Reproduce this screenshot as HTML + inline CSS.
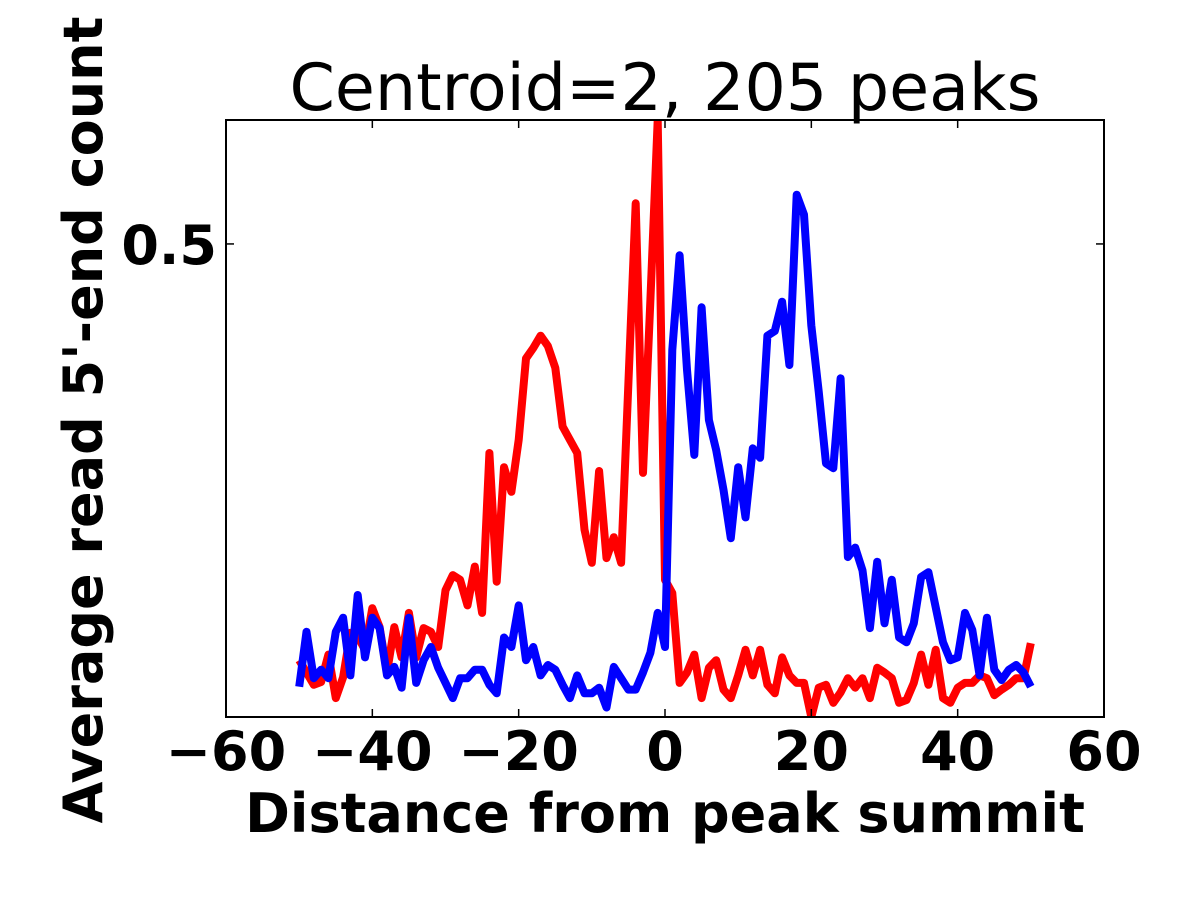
<!DOCTYPE html>
<html><head><meta charset="utf-8"><style>
html,body{margin:0;padding:0;background:#fff;}
svg{display:block;}
</style></head><body>
<svg id="chart" width="1200" height="900" xmlns="http://www.w3.org/2000/svg"></svg>
<script>
const xs = []; for (let i = -50; i <= 50; i++) xs.push(i);
const redValues = [.060,.047,.034,.037,.066,.020,.042,.089,.085,.071,.115,.095,.047,.095,.063,.110,.063,.094,.090,.074,.134,.150,.145,.118,.159,.110,.279,.143,.264,.238,.293,.379,.390,.403,.392,.369,.307,.293,.279,.198,.163,.260,.168,.190,.163,.353,.543,.258,.441,.631,.145,.131,.036,.047,.066,.020,.052,.060,.029,.020,.044,.071,.044,.071,.034,.025,.063,.044,.036,.036,0,.031,.034,.015,.026,.041,.031,.041,.020,.052,.047,.041,.015,.018,.036,.066,.034,.071,.020,.015,.031,.036,.036,.044,.041,.023,.029,.034,.041,.041,.078];
const blueValues = [.032,.090,.041,.050,.041,.090,.105,.044,.129,.063,.105,.094,.044,.053,.031,.105,.036,.060,.074,.052,.036,.020,.041,.041,.050,.050,.034,.025,.084,.074,.118,.060,.074,.044,.055,.050,.034,.020,.044,.025,.025,.031,.010,.053,.041,.029,.029,.047,.068,.110,.074,.388,.488,.367,.277,.433,.314,.282,.240,.189,.264,.211,.284,.274,.403,.408,.439,.372,.552,.531,.414,.344,.268,.263,.358,.169,.179,.155,.094,.164,.099,.145,.084,.079,.099,.148,.153,.116,.079,.060,.063,.110,.092,.044,.105,.050,.039,.050,.055,.047,.032];
const xTicks = [-60,-40,-20,0,20,40,60];
const xTickLabels = ["\u221260","\u221240","\u221220","0","20","40","60"];
const yTicks = [0.5];
const yTickLabels = ["0.5"];

const L=226,R=1104,T=120,B=717;
const xMin=-60,xMax=60,yMin=0,yMax=0.631;
const sx=v=>L+(v-xMin)/(xMax-xMin)*(R-L);
const sy=v=>B-(v-yMin)/(yMax-yMin)*(B-T);
const NS="http://www.w3.org/2000/svg";
const FONT='DejaVu Sans, sans-serif';
const svg=document.getElementById('chart');
function mk(tag,attrs,parent){const e=document.createElementNS(NS,tag);for(const k in attrs)e.setAttribute(k,attrs[k]);(parent||svg).appendChild(e);return e;}

const defs=mk('defs',{});
const cp=mk('clipPath',{id:'clip'},defs);
mk('rect',{x:L,y:T,width:R-L,height:B-T},cp);

function series(vals,color,name){
  const d=vals.map((v,i)=>(i?'L':'M')+sx(xs[i]).toFixed(1)+','+sy(v).toFixed(1)).join(' ');
  const p=mk('path',{d:d,fill:'none',stroke:color,'stroke-width':8,'stroke-linejoin':'round','clip-path':'url(#clip)'});
  
  
}
series(redValues,'#ff0000','red-series-line');
series(blueValues,'#0000ff','blue-series-line');

const frame=mk('rect',{x:L,y:T,width:R-L,height:B-T,fill:'none',stroke:'#000','stroke-width':2});



xTicks.forEach((t,i)=>{
  const x=sx(t);
  mk('line',{x1:x,y1:B,x2:x,y2:B-8,stroke:'#000','stroke-width':1.5});
  mk('line',{x1:x,y1:T,x2:x,y2:T+8,stroke:'#000','stroke-width':1.5});
  const tx=mk('text',{x:x,y:770,'text-anchor':'middle','font-family':FONT,'font-weight':'bold','font-size':54});
  tx.textContent=xTickLabels[i];
  
  
});
yTicks.forEach((t,i)=>{
  const y=sy(t);
  mk('line',{x1:L,y1:y,x2:L+8,y2:y,stroke:'#000','stroke-width':1.5});
  mk('line',{x1:R,y1:y,x2:R-8,y2:y,stroke:'#000','stroke-width':1.5});
  const tx=mk('text',{x:217,y:y+20,'text-anchor':'end','font-family':FONT,'font-weight':'bold','font-size':54});
  tx.textContent=yTickLabels[i];
  
  
});
</script>
<div style="position:absolute;left:0;top:0;width:1200px;height:900px;pointer-events:none;">
<svg width="1200" height="900" xmlns="http://www.w3.org/2000/svg">
<text x="665" y="110" text-anchor="middle" font-family="DejaVu Sans, sans-serif" font-size="65">Centroid=2, 205 peaks</text>
<text x="665" y="832" text-anchor="middle" font-family="DejaVu Sans, sans-serif" font-weight="bold" font-size="54">Distance from peak summit</text>
<text transform="translate(102,420) rotate(-90)" text-anchor="middle" font-family="DejaVu Sans, sans-serif" font-weight="bold" font-size="54">Average read 5'-end count</text>
</svg>
</div>
</body></html>
